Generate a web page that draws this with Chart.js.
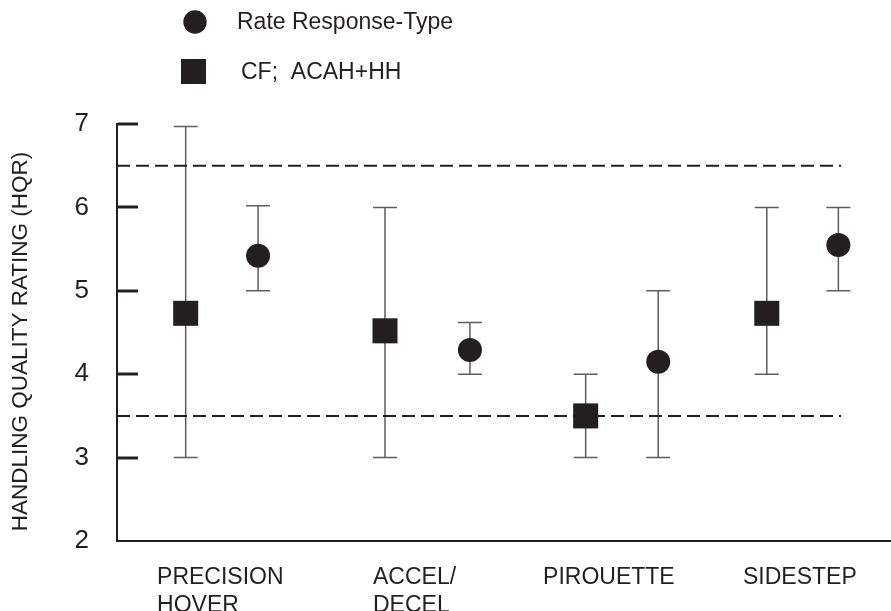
<!DOCTYPE html>
<html>
<head>
<meta charset="utf-8">
<script src="https://cdn.jsdelivr.net/npm/chart.js@4/dist/chart.umd.min.js"></script>
<style>
  html, body { margin: 0; padding: 0; background: #ffffff; }
  #wrap { width: 891px; height: 611px; }
</style>
</head>
<body>
<div id="wrap"><canvas id="c" width="891" height="611"></canvas></div>
<script>
// ---- data ----
const categories = [['PRECISION', 'HOVER'], ['ACCEL/', 'DECEL'], ['PIROUETTE'], ['SIDESTEP']];
const categoryLabelX = [0.207, 1.323, 2.202, 3.235];   // x (axis units) where each task label starts
const seriesNames = ['Rate Response-Type', 'CF;  ACAH+HH'];
const yTitle = 'HANDLING QUALITY RATING (HQR)';

const rateX    = [0.729, 1.824, 2.797, 3.728];
const rateMean = [5.42, 4.29, 4.15, 5.55];
const rateLow  = [5.00, 4.00, 3.00, 5.00];
const rateHigh = [6.02, 4.62, 5.00, 6.00];

const cfX    = [0.355, 1.385, 2.422, 3.358];
const cfMean = [4.73, 4.52, 3.50, 4.73];
const cfLow  = [3.00, 3.00, 3.00, 4.00];
const cfHigh = [6.97, 6.00, 4.00, 6.00];

const yTicks = [2, 3, 4, 5, 6, 7];
const boundaryLevels = [6.5, 3.5];
const boundaryXRange = [0, 3.742];

// ---- styles ----
const INK = '#231f20';
const FONT = "'Liberation Sans', Arial, sans-serif";

const pts = (xs, ys) => xs.map((x, i) => ({ x: x, y: ys[i] }));

const errorBars = {
  id: 'errorBars',
  beforeDatasetsDraw(chart) {
    const ctx = chart.ctx, xs = chart.scales.x, ys = chart.scales.y;
    const groups = [[rateX, rateLow, rateHigh], [cfX, cfLow, cfHigh]];
    ctx.save();
    ctx.strokeStyle = '#5e5e5e';
    ctx.lineWidth = 1.5;
    groups.forEach(([X, L, H]) => {
      X.forEach((x, i) => {
        const px = xs.getPixelForValue(x);
        const pl = ys.getPixelForValue(L[i]);
        const ph = ys.getPixelForValue(H[i]);
        ctx.beginPath();
        ctx.moveTo(px, pl); ctx.lineTo(px, ph);
        ctx.moveTo(px - 12, pl); ctx.lineTo(px + 12, pl);
        ctx.moveTo(px - 12, ph); ctx.lineTo(px + 12, ph);
        ctx.stroke();
      });
    });
    ctx.restore();
  }
};

const inwardTicks = {
  id: 'inwardTicks',
  afterDraw(chart) {
    const ctx = chart.ctx, ys = chart.scales.y;
    const area = chart.chartArea;
    const left = area.left;
    ctx.save();
    ctx.strokeStyle = INK;
    ctx.lineWidth = 3;
    yTicks.filter(v => v !== ys.min).forEach(v => {
      const py = Math.round(ys.getPixelForValue(v));
      ctx.beginPath();
      ctx.moveTo(left + 1, py); ctx.lineTo(left + 21, py);
      ctx.stroke();
    });
    // y-axis title
    ctx.fillStyle = INK;
    ctx.font = '22.5px ' + FONT;
    ctx.textAlign = 'center';
    ctx.textBaseline = 'middle';
    ctx.translate(21, (area.top + area.bottom) / 2 + 9);
    ctx.rotate(-Math.PI / 2);
    ctx.fillText(yTitle, 0, 0);
    ctx.restore();
  }
};

const customLegend = {
  id: 'customLegend',
  afterDraw(chart) {
    const ctx = chart.ctx;
    ctx.save();
    ctx.fillStyle = INK;
    ctx.beginPath();
    ctx.arc(195, 22, 11.7, 0, Math.PI * 2);
    ctx.fill();
    ctx.fillRect(181, 59, 25, 25);
    ctx.font = '23px ' + FONT;
    ctx.textBaseline = 'middle';
    ctx.textAlign = 'left';
    ctx.fillText(seriesNames[0], 237, 23);
    ctx.fillText(seriesNames[1], 241, 73);
    ctx.restore();
  }
};

new Chart(document.getElementById('c'), {
  type: 'scatter',
  data: {
    datasets: [
      {
        label: seriesNames[0],
        data: pts(rateX, rateMean),
        pointStyle: 'circle', pointRadius: 12, pointBorderWidth: 0,
        backgroundColor: INK, borderColor: INK
      },
      {
        label: seriesNames[1],
        data: pts(cfX, cfMean),
        pointStyle: 'rect', pointRadius: 17.7, pointBorderWidth: 0,
        backgroundColor: INK, borderColor: INK
      },
      ...boundaryLevels.map(v => ({
        type: 'line',
        label: 'HQR ' + v,
        data: boundaryXRange.map(x => ({ x: x, y: v })),
        borderColor: INK, borderWidth: 2, borderDash: [13, 6],
        pointRadius: 0, fill: false
      }))
    ]
  },
  options: {
    responsive: false,
    devicePixelRatio: 1,
    animation: false,
    layout: { autoPadding: false, padding: { top: 124, left: 0, right: 0, bottom: 0 } },
    plugins: { legend: { display: false }, tooltip: { enabled: false } },
    scales: {
      x: {
        type: 'linear', min: 0, max: 4,
        afterBuildTicks: s => { s.ticks = categoryLabelX.map(v => ({ value: v })); },
        afterFit: s => { s.height = 70; s.paddingLeft = 0; s.paddingRight = 0; },
        grid: { display: false },
        border: { display: true, color: INK, width: 2 },
        ticks: {
          align: 'start', autoSkip: false, maxRotation: 0, minRotation: 0,
          padding: 15, color: INK,
          font: { family: FONT, size: 23, lineHeight: 1.2 },
          callback: (v, i) => categories[i]
        }
      },
      y: {
        min: 2, max: 7,
        afterBuildTicks: s => { s.ticks = yTicks.map(v => ({ value: v })); },
        afterFit: s => { s.width = 117; },
        grid: { display: false },
        border: { display: true, color: INK, width: 2 },
        ticks: { padding: 20, color: INK, font: { family: FONT, size: 26 } },
        title: { display: false }
      }
    }
  },
  plugins: [errorBars, inwardTicks, customLegend]
});
</script>
</body>
</html>
